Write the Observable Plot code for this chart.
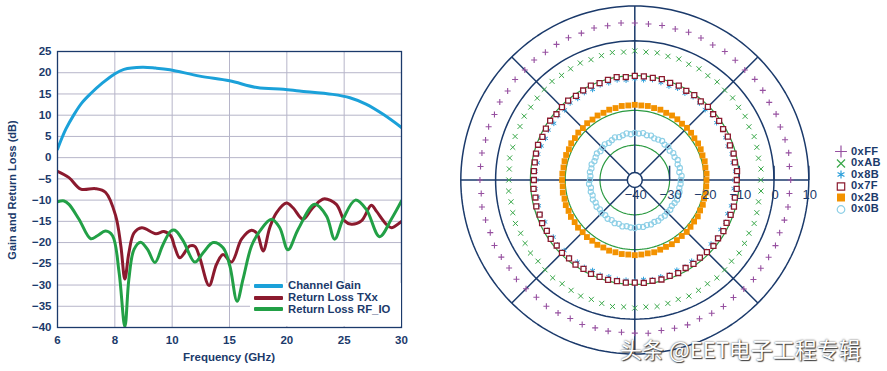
<!DOCTYPE html>
<html><head><meta charset="utf-8">
<script src="https://cdn.jsdelivr.net/npm/d3@7"></script>
<script src="https://cdn.jsdelivr.net/npm/@observablehq/plot@0.6"></script>
<style>
html,body{margin:0;padding:0;background:#fff;}
#wrap{position:relative;width:887px;height:371px;overflow:hidden;font-family:"Liberation Sans",Arial,sans-serif;color:#1b3a6b;}
.abs{position:absolute;}
#wrap svg{overflow:visible;}
</style></head><body><div id="wrap"></div>
<script>
// ---------- Left chart data ----------
const freqTicks = [6, 8, 10, 15, 20, 25, 30];
const dbTicks = [-40, -35, -30, -25, -20, -15, -10, -5, 0, 5, 10, 15, 20, 25];
const seriesNames = ["Channel Gain", "Return Loss TXx", "Return Loss RF_IO"];
const seriesColors = ["#1ba1d9", "#8b1a2e", "#22a046"];

const gainFreq = [6.0, 6.29, 6.58, 6.85, 7.16, 7.57, 7.97, 8.32, 8.96, 9.42, 9.92, 12.4, 15.0, 17.4, 19.7, 21.1, 24.0, 25.5, 26.9, 28.4, 30.0];
const gainDb   = [2.0, 6.7, 10.2, 12.9, 15.1, 17.6, 19.6, 20.8, 21.3, 21.1, 20.7, 19.2, 18.1, 16.5, 16.1, 15.7, 14.9, 14.1, 12.6, 10.2, 7.1];

const txFreq = [6.00, 6.40, 6.81, 7.33, 7.68, 8.03, 8.21, 8.35, 8.49, 8.67, 8.94, 9.43, 9.71, 9.95, 10.24, 10.67, 11.54, 11.98, 12.41, 13.22, 13.87, 14.44, 15.17, 16.05, 16.92, 17.41, 17.93, 18.51, 19.09, 19.97, 20.54, 21.41, 22.14, 22.87, 23.30, 24.32, 25.04, 25.63, 26.50, 27.37, 27.81, 28.68, 29.12, 30.0];
const txDb   = [-3.2, -4.7, -7.4, -7.3, -8.2, -13.7, -20.8, -28.6, -22.4, -17.7, -16.5, -17.9, -17.4, -18.4, -21.2, -23.6, -20.8, -20.9, -23.6, -30.1, -25.1, -22.8, -24.6, -19.2, -17.1, -17.9, -22.0, -16.5, -13.0, -10.7, -11.8, -14.5, -12.2, -10.2, -9.7, -11.0, -14.9, -15.7, -14.9, -11.2, -12.6, -15.7, -16.5, -15.0];

const rfFreq = [6.00, 6.23, 6.40, 6.75, 7.16, 7.39, 7.68, 7.92, 8.15, 8.35, 8.49, 8.67, 8.90, 9.14, 9.40, 9.66, 9.95, 10.24, 10.96, 11.98, 12.70, 13.57, 14.44, 15.03, 15.66, 16.18, 16.92, 17.64, 18.66, 19.38, 20.10, 20.98, 22.43, 23.45, 24.17, 24.90, 25.98, 26.93, 28.09, 29.11, 30.0];
const rfDb   = [-10.4, -10.2, -11.0, -14.5, -19.1, -18.4, -17.3, -18.4, -27.1, -39.8, -28.6, -21.6, -19.9, -21.6, -24.7, -20.8, -17.3, -17.1, -19.6, -24.6, -22.4, -20.0, -21.2, -25.5, -33.8, -28.6, -20.8, -17.3, -14.5, -16.5, -21.7, -16.9, -11.0, -13.7, -19.2, -14.5, -10.0, -12.2, -18.6, -14.5, -10.2];

// ---------- Polar chart data ----------
const angles = [0,5,10,15,20,25,30,35,40,45,50,55,60,65,70,75,80,85,
  90,95,100,105,110,115,120,125,130,135,140,145,150,155,160,165,170,175,
  180,185,190,195,200,205,210,215,220,225,230,235,240,245,250,255,260,265,
  270,275,280,285,290,295,300,305,310,315,320,325,330,335,340,345,350,355];
const codes = ["0xFF", "0xAB", "0x8B", "0x7F", "0x2B", "0x0B"];
const vFF = [4.8,4.6,4.9,4.7,4.5,4.8,4.6,4.9,5.0,4.7,4.9,5.1,4.8,5.0,5.2,4.9,5.1,5.0,
  5.1,5.3,5.0,5.2,4.9,5.1,5.0,4.8,5.0,4.7,4.9,4.6,4.8,4.5,4.7,4.4,4.6,4.5,
  4.5,4.3,4.6,4.4,4.2,4.5,4.3,4.1,4.4,4.2,4.0,4.3,4.1,3.9,4.2,4.0,4.1,3.9,
  4.0,4.2,3.9,4.1,4.3,4.0,4.2,4.4,4.1,4.3,4.5,4.2,4.4,4.6,4.3,4.5,4.7,4.6];
const vAB = [-3.8,-3.6,-3.9,-3.7,-3.5,-3.8,-3.4,-3.6,-3.3,-3.5,-3.2,-3.4,-3.1,-3.3,-3.0,-3.2,-2.9,-3.1,
  -2.9,-3.1,-2.8,-3.0,-3.2,-2.9,-3.1,-3.3,-3.0,-3.2,-3.4,-3.5,-3.3,-3.6,-3.4,-3.7,-3.5,-3.8,
  -3.8,-3.6,-3.9,-3.7,-3.5,-3.8,-3.6,-3.4,-3.7,-3.5,-3.3,-3.6,-3.4,-3.2,-3.5,-3.3,-3.1,-3.4,
  -3.2,-3.4,-3.1,-3.3,-3.5,-3.2,-3.4,-3.6,-3.3,-3.5,-3.7,-3.4,-3.6,-3.8,-3.5,-3.7,-3.9,-3.6];
const v8B = [-11.3,-11.0,-11.4,-11.1,-11.5,-11.2,-10.9,-11.3,-11.0,-11.4,-11.1,-10.8,-11.2,-10.9,-11.3,-11.0,-10.7,-11.1,
  -10.9,-11.2,-10.8,-11.1,-10.9,-11.3,-11.0,-11.4,-11.1,-11.5,-11.2,-11.6,-11.3,-11.7,-11.4,-11.2,-11.6,-11.3,
  -11.6,-11.3,-11.7,-11.4,-11.2,-11.5,-11.1,-11.4,-11.0,-11.3,-10.9,-11.2,-11.0,-11.3,-10.9,-11.2,-11.0,-11.1,
  -11.0,-11.3,-10.9,-11.2,-11.0,-11.4,-11.1,-11.5,-11.2,-11.0,-11.4,-11.1,-11.5,-11.2,-11.6,-11.3,-11.1,-11.4];
const v7F = [-10.7,-10.5,-10.8,-10.6,-10.9,-10.5,-10.7,-10.4,-10.6,-10.3,-10.5,-10.2,-10.4,-10.1,-10.3,-10.0,-10.2,-10.1,
  -10.1,-10.3,-10.0,-10.2,-10.4,-10.1,-10.3,-10.5,-10.2,-10.4,-10.6,-10.3,-10.5,-10.7,-10.4,-10.6,-10.8,-10.9,
  -11.0,-10.8,-11.0,-10.7,-10.9,-10.6,-10.8,-10.5,-10.7,-10.4,-10.6,-10.3,-10.5,-10.2,-10.4,-10.3,-10.5,-10.4,
  -10.5,-10.3,-10.6,-10.4,-10.7,-10.5,-10.8,-10.6,-10.9,-10.7,-10.5,-10.8,-10.6,-10.9,-10.7,-10.5,-10.8,-10.6];
const v2B = [-19.4,-19.3,-19.4,-19.2,-19.3,-19.1,-19.0,-19.1,-18.9,-18.8,-18.9,-18.7,-18.6,-18.7,-18.5,-18.6,-18.4,-18.5,
  -18.4,-18.5,-18.4,-18.6,-18.5,-18.7,-18.6,-18.8,-18.7,-18.9,-18.8,-19.0,-18.9,-19.1,-19.0,-19.1,-19.2,-19.1,
  -19.1,-19.2,-19.0,-19.1,-18.9,-19.0,-18.8,-18.9,-18.7,-18.8,-18.6,-18.7,-18.5,-18.6,-18.4,-18.5,-18.4,-18.5,
  -18.4,-18.5,-18.6,-18.5,-18.7,-18.8,-18.7,-18.9,-19.0,-18.9,-19.1,-19.2,-19.1,-19.3,-19.2,-19.4,-19.3,-19.4];
const v0B = [-26.8,-26.5,-27.0,-26.6,-26.9,-26.4,-26.8,-26.5,-26.9,-26.4,-26.7,-26.3,-26.6,-26.8,-26.4,-26.7,-26.3,-26.6,
  -26.5,-26.8,-26.4,-26.7,-26.9,-26.5,-26.8,-27.0,-26.6,-26.9,-27.1,-26.7,-27.0,-27.2,-26.8,-27.1,-26.9,-27.2,
  -27.1,-26.8,-27.2,-26.9,-27.1,-26.7,-27.0,-26.6,-26.9,-26.5,-26.8,-26.4,-26.7,-26.3,-26.6,-26.2,-26.5,-26.3,
  -26.2,-26.5,-26.3,-26.6,-26.4,-26.7,-26.5,-26.8,-26.6,-26.9,-26.7,-27.0,-26.8,-26.6,-26.9,-26.7,-27.0,-26.8];
const ringTicks = [-40, -30, -20, -10, 0, 10];
const spokeAngles = [0, 45, 90, 135, 180, 225, 270, 315];

const navy = "#1b3a6b";
const gridGray = "#b6b5c9";
const wrap = document.getElementById("wrap");

// ---------- Left chart ----------
const rows = [];
gainFreq.forEach((f, i) => rows.push({series: seriesNames[0], f, v: gainDb[i]}));
txFreq.forEach((f, i) => rows.push({series: seriesNames[1], f, v: txDb[i]}));
rfFreq.forEach((f, i) => rows.push({series: seriesNames[2], f, v: rfDb[i]}));

const left = Plot.plot({
  width: 420, height: 371,
  marginLeft: 57, marginRight: 19, marginTop: 51, marginBottom: 44,
  style: {background: "transparent", color: navy, fontFamily: "'Liberation Sans', Arial, sans-serif", fontSize: "11.5px", fontWeight: "bold"},
  x: {type: "linear", domain: freqTicks, ticks: freqTicks, tickSize: 0, tickPadding: 8, label: null, tickFormat: d => String(d)},
  y: {domain: [-40, 25], ticks: dbTicks, tickSize: 0, tickPadding: 6, label: null},
  color: {domain: seriesNames, range: seriesColors},
  marks: [
    Plot.ruleX(freqTicks, {stroke: gridGray, strokeWidth: 1}),
    Plot.ruleY(dbTicks, {stroke: gridGray, strokeWidth: 1}),
    Plot.line(rows, {x: "f", y: "v", z: "series", stroke: "series", strokeWidth: 3, curve: "catmull-rom", clip: true}),
    Plot.frame({stroke: navy, strokeWidth: 1.3})
  ]
});
left.style.position = "absolute"; left.style.left = "0px"; left.style.top = "0px";
wrap.appendChild(left);

function addDiv(html, css) {
  const d = document.createElement("div");
  d.className = "abs"; d.innerHTML = html; Object.assign(d.style, css); wrap.appendChild(d); return d;
}
// axis titles
addDiv("Frequency (GHz)", {left: "129px", width: "200px", textAlign: "center", top: "350px", fontSize: "11.5px", fontWeight: "bold", lineHeight: "14px"});
addDiv("Gain and Return Loss (dB)", {left: "-88px", top: "183px", width: "200px", textAlign: "center", fontSize: "11px", fontWeight: "bold", lineHeight: "14px", transform: "rotate(-90deg)"});
// legend box
addDiv("", {left: "250px", top: "282.5px", width: "151px", height: "43.5px", background: "#fff"});
seriesNames.forEach((name, i) => {
  const cy = 286 + i * 11.7;
  addDiv("", {left: "254px", top: (cy - 2) + "px", width: "29px", height: "4px", background: seriesColors[i], borderRadius: "1px"});
});
addDiv(seriesNames.join("<br>"), {left: "288px", top: (286 - 5.85) + "px", fontSize: "11.3px", fontWeight: "bold", lineHeight: "11.7px", whiteSpace: "nowrap"});

// ---------- Right polar chart ----------
const polarRows = [];
const allVals = [vFF, vAB, v8B, v7F, v2B, v0B];
codes.forEach((c, k) => allVals[k].forEach((db, i) => {
  const u = db + 40, a = angles[i] * Math.PI / 180;
  polarRows.push({code: c, px: u * Math.cos(a), py: u * Math.sin(a)});
}));
const circlePts = [];
ringTicks.slice(1).forEach(t => {
  for (let a = 0; a <= 360; a += 2) {
    const u = t + 40, r = a * Math.PI / 180;
    circlePts.push({ring: t, px: u * Math.cos(r), py: u * Math.sin(r)});
  }
});
const spokes = spokeAngles.map(a => {
  const r = a * Math.PI / 180;
  return {x1: 2.16 * Math.cos(r), y1: 2.16 * Math.sin(r), x2: 50 * Math.cos(r), y2: 50 * Math.sin(r)};
});
const fmt = d => (d < 0 ? "\u2212" + Math.abs(d) : String(d));
const sel = c => polarRows.filter(d => d.code === c);

const right = Plot.plot({
  width: 447, height: 371,
  marginLeft: 20.3, marginRight: 78.7, marginTop: 5.5, marginBottom: 17.5,
  style: {background: "transparent", color: navy, fontFamily: "'Liberation Sans', Arial, sans-serif"},
  x: {domain: [-50, 50], axis: null},
  y: {domain: [-50, 50], axis: null},
  marks: [
    Plot.line(circlePts.filter(d => d.ring < 0), {x: "px", y: "py", z: "ring", stroke: "#2a9a40", strokeWidth: 1.2}),
    Plot.line(circlePts.filter(d => d.ring >= 0), {x: "px", y: "py", z: "ring", stroke: navy, strokeWidth: 1.5}),
    Plot.link(spokes, {x1: "x1", y1: "y1", x2: "x2", y2: "y2", stroke: navy, strokeWidth: 1.5}),
    Plot.dot([{px: 0, py: 0}], {x: "px", y: "py", r: 7.5, fill: "white", stroke: navy, strokeWidth: 1.5}),
    Plot.link(ringTicks.slice(1), {x1: d => d + 40, x2: d => d + 40, y1: 0, y2: 4.1, stroke: navy, strokeWidth: 1.5}),
    Plot.dot(sel("0xFF"), {x: "px", y: "py", symbol: "plus", r: 2.1, stroke: "#9650a0", strokeWidth: 1.1}),
    Plot.dot(sel("0xAB"), {x: "px", y: "py", symbol: "times", r: 2.4, stroke: "#3aa84a", strokeWidth: 1}),
    Plot.dot(sel("0x8B"), {x: "px", y: "py", symbol: "asterisk", r: 2.6, stroke: "#2b9fdb", strokeWidth: 1}),
    Plot.dot(sel("0x7F"), {x: "px", y: "py", symbol: "square", r: 2.8, fill: "white", stroke: "#8b1a2e", strokeWidth: 1.3}),
    Plot.dot(sel("0x2B"), {x: "px", y: "py", symbol: "square", r: 3.3, fill: "#f39200", stroke: "none"}),
    Plot.dot(sel("0x0B"), {x: "px", y: "py", symbol: "circle", r: 2.6, fill: "none", stroke: "#8dcfe6", strokeWidth: 1.1}),
    Plot.text(ringTicks, {x: d => d + 40, y: 0, text: fmt, dy: 15, dx: 1, fontSize: 13, fill: navy})
  ]
});
right.style.position = "absolute"; right.style.left = "440px"; right.style.top = "0px";
wrap.appendChild(right);

// right legend
const legendSyms = [
  {type: d3.symbolPlus, size: 48, fill: "none", stroke: "#9650a0"},
  {type: d3.symbolTimes, size: 44, fill: "none", stroke: "#3aa84a"},
  {type: d3.symbolAsterisk, size: 44, fill: "none", stroke: "#2b9fdb"},
  {type: d3.symbolSquare, size: 55, fill: "white", stroke: "#8b1a2e"},
  {type: d3.symbolSquare, size: 64, fill: "#f39200", stroke: "none"},
  {type: d3.symbolCircle, size: 45, fill: "none", stroke: "#8dcfe6"}
];
codes.forEach((c, i) => {
  const cy = 151.7 + i * 11.5;
  const s = legendSyms[i];
  const path = d3.symbol(s.type, s.size)();
  addDiv(`<svg width="14" height="11" viewBox="-7 -5.5 14 11"><path d="${path}" fill="${s.fill}" stroke="${s.stroke}" stroke-width="1.2"/></svg>`,
    {left: "834px", top: (cy - 5.5) + "px", width: "14px", height: "11px", lineHeight: "0"});
});
addDiv(codes.join("<br>"), {left: "851px", top: (151.7 - 5.75) + "px", fontSize: "11.1px", letterSpacing: "0.4px", fontWeight: "bold", lineHeight: "11.5px"});

// watermark
addDiv("头条 @EET电子工程专辑", {left: "620px", top: "333px", fontSize: "22px", color: "#fff", fontFamily: "'Noto Sans CJK SC', sans-serif", lineHeight: "30px", whiteSpace: "nowrap", textShadow: "0 0 2px #333, 1px 1px 1px #444"});
</script>
</body></html>
